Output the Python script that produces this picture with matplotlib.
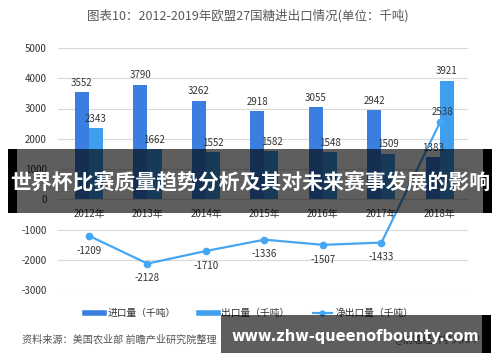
import matplotlib
matplotlib.use("Agg")
import matplotlib.pyplot as plt
from matplotlib.patches import Rectangle
from matplotlib.lines import Line2D
import numpy as np

plt.rcParams['font.family'] = ['Noto Sans CJK SC', 'DejaVu Sans']

years = ['2012年', '2013年', '2014年', '2015年', '2016年', '2017年', '2018年']
imports = [3552, 3790, 3262, 2918, 3055, 2942, 1383]
exports = [2343, 1662, 1552, 1582, 1548, 1509, 3921]
net_exports = [-1209, -2128, -1710, -1336, -1507, -1433, 2538]
yticks = [-3000, -2000, -1000, 0, 1000, 2000, 3000, 4000, 5000]

title = '图表10：2012-2019年欧盟27国糖进出口情况(单位：千吨)'
legend_labels = ['进口量（千吨）', '出口量（千吨）', '净出口量（千吨）']
source = '资料来源：美国农业部 前瞻产业研究院整理'
brand = '@前瞻经济学人APP'
banner = '世界杯比赛质量趋势分析及其对未来赛事发展的影响'
url = 'www.zhw-queenofbounty.com'

c_imp = '#3a7fe0'
c_exp = '#3f9fee'
c_net = '#45a6f3'

W, H = 500, 362
fig = plt.figure(figsize=(5, 3.62), dpi=100)
ax = fig.add_axes([58 / W, 1 - 290 / H, 410 / W, 242 / H])

for s in ['top', 'right', 'left']:
    ax.spines[s].set_visible(False)
ax.spines['bottom'].set_position(('data', 0))
ax.spines['bottom'].set_color('#d9d9d9')

x = np.arange(len(years))
bw = 0.24
ax.bar(x - bw / 2, imports, bw, color=c_imp, zorder=2)
ax.bar(x + bw / 2, exports, bw, color=c_exp, zorder=2)
ax.plot(x, net_exports, color=c_net, lw=1.6, marker='o', ms=4.5, zorder=3)

for xi, v in zip(x - bw / 2, imports):
    ax.annotate(str(v), (xi, v), xytext=(0, 3), textcoords='offset points',
                ha='center', va='bottom', fontsize=7, color='#333333')
for xi, v in zip(x + bw / 2, exports):
    ax.annotate(str(v), (xi, v), xytext=(0, 3), textcoords='offset points',
                ha='center', va='bottom', fontsize=7, color='#333333')
for xi, v in zip(x, net_exports):
    if v > 0:
        ax.annotate(str(v), (xi, v), xytext=(2, 4), textcoords='offset points',
                    ha='center', va='bottom', fontsize=7, color='#333333')
    else:
        ax.annotate(str(v), (xi, v), xytext=(0, -7), textcoords='offset points',
                    ha='center', va='top', fontsize=7, color='#333333')

ax.set_ylim(-3000, 5000)
ax.set_xlim(-0.53, 6.48)
ax.set_yticks(yticks)
ax.set_yticklabels([str(t) for t in yticks], fontsize=7, color='#333333')
ax.set_xticks(x)
ax.set_xticklabels(years, fontsize=7, color='#333333')
ax.yaxis.grid(True, color='#d9d9d9', lw=0.8, zorder=0)
ax.set_axisbelow(True)
ax.tick_params(axis='both', length=0)
ax.tick_params(axis='y', pad=8)
ax.tick_params(axis='x', pad=7)

fig.text(248 / W, 1 - 16 / H, title, ha='center', va='center', fontsize=9, color='#595959')

handles = [Line2D([0], [0], color=c_imp, lw=4),
           Line2D([0], [0], color=c_exp, lw=4),
           Line2D([0], [0], color=c_net, lw=1.6, marker='o', ms=3.5)]
fig.legend(handles, legend_labels, loc='center', bbox_to_anchor=(249 / W, 1 - 313 / H),
           ncol=3, frameon=False, fontsize=7, handlelength=2.0, handletextpad=0.3,
           columnspacing=2.4, labelcolor='#333333')

fig.text(22 / W, 1 - 340 / H, source, ha='left', va='center', fontsize=7.3, color='#555555')
fig.text(480 / W, 1 - 340 / H, brand, ha='right', va='center', fontsize=7, color='#555555')

# overlay banners
def rect(x0, y0, x1, y1, alpha):
    fig.add_artist(Rectangle((x0 / W, 1 - y1 / H), (x1 - x0) / W, (y1 - y0) / H,
                             transform=fig.transFigure, facecolor='black', alpha=alpha,
                             edgecolor='none', zorder=10))

rect(17, 149, 483, 213, 0.63)
rect(8, 149, 17, 213, 1.0)
rect(483, 149, 492, 213, 1.0)
fig.text(250 / W, 1 - 183 / H, banner, ha='center', va='center', fontsize=15,
         weight='bold', color='white', zorder=11)

rect(221, 315, 482, 353, 0.63)
rect(482, 315, 491, 353, 1.0)
fig.text(355 / W, 1 - 336 / H, url, ha='center', va='center', fontsize=10.5,
         weight='bold', color='white', family=['DejaVu Sans'], zorder=11)

fig.savefig('out.png', dpi=100)
